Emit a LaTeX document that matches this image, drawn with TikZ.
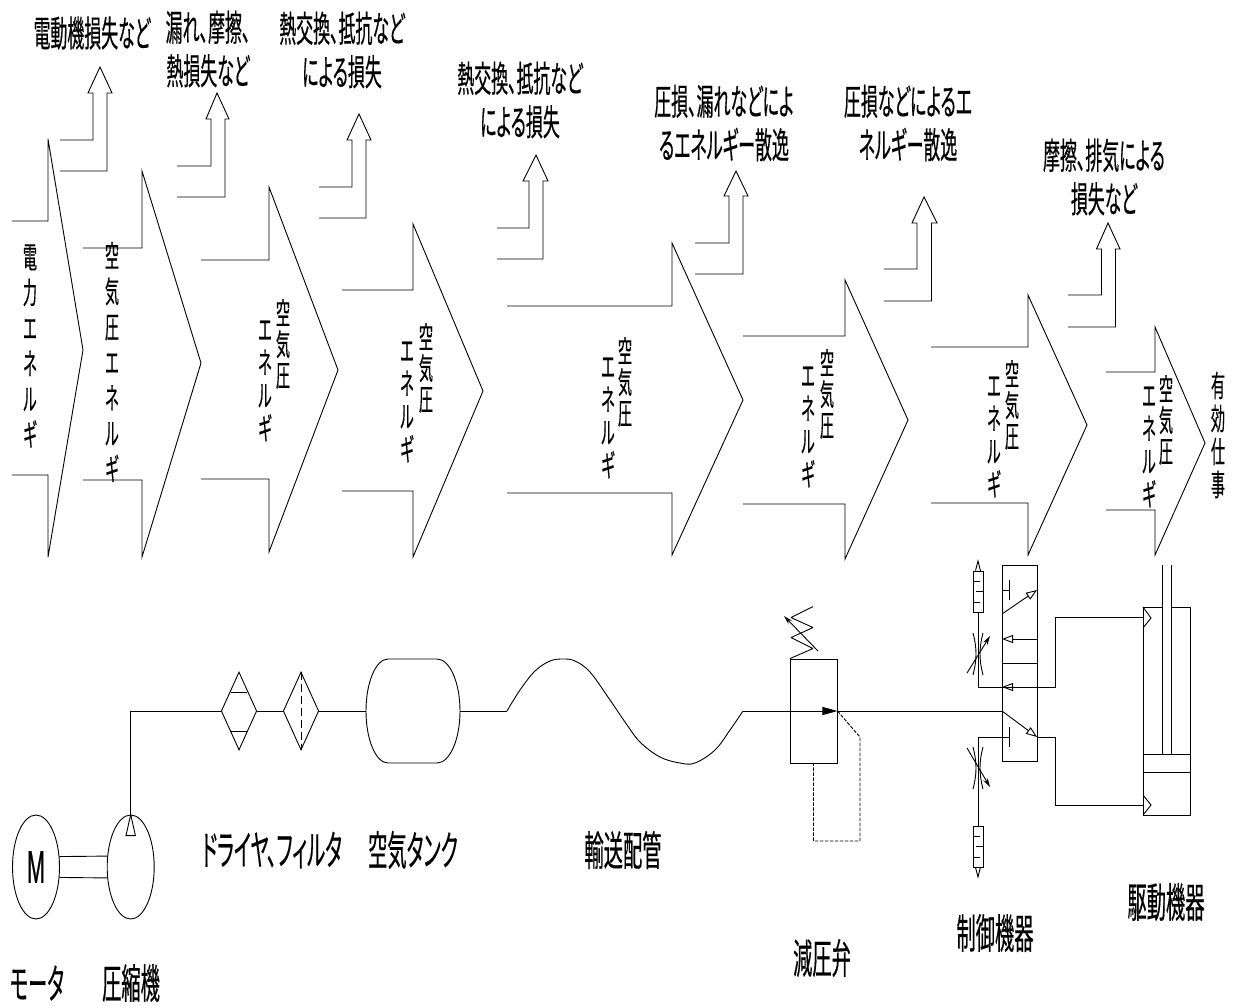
\documentclass[tikz,border=0pt]{standalone}
\usepackage{fontspec}
\usepackage{xcolor}
\usepackage{tikz}
\usetikzlibrary{positioning,arrows.meta,shapes.geometric,calc}
\newfontfamily\jpfont[FakeStretch=0.47,FakeBold=0.35,RawFeature=+palt]{Noto Sans CJK JP}
\newfontfamily\latfont[FakeStretch=0.47,FakeBold=0.5]{Liberation Sans}
\tikzset{
  flow/.style={line width=0.9pt, draw=black, line join=miter},
  elem/.style={draw=black, line width=0.9pt, inner sep=0pt},
  lossl/.style={align=center, inner sep=0pt, font=\jpfont\fontsize{36}{43.5}\selectfont},
  partl/.style={align=center, inner sep=0pt, font=\jpfont\fontsize{41}{40}\selectfont},
  airl/.style={align=center, inner sep=0pt, font=\jpfont\fontsize{30}{#1}\selectfont},
  airl/.default=31,
  openarr/.style={flow, -{Triangle[open, length=11pt, width=8pt]}},
  fillarr/.style={flow, -{Stealth[length=9pt, width=5pt]}},
  pilot/.style={flow, dashed, dash pattern=on 3.5pt off 1.5pt},
}

\begin{document}
\begin{tikzpicture}[x=1pt,y=-1pt]
    \useasboundingbox (0,0) rectangle (1234,1005);
    % big energy arrows
    \foreach \a/\b/\c/\t/\s/\m/\e/\r in {12/48/83/221/139/350/557/475, 83/142/201/248/171/363/557/480,
      201/269/338/260/187/370/552/479, 342/413/483/290/224/391/557/491, 507/672/743/306/243/400/555/493,
      743/845/908/336/280/420/559/504, 931/1028/1087/347/295/425/555/503, 1106/1155/1205/372/327/443/555/510}{
      \draw[flow] (\a,\t) -- (\b,\t) -- (\b,\s) -- (\c,\m) -- (\b,\e) -- (\b,\r) -- (\a,\r);
    }
    % loss arrows going up
    \foreach \a/\i/\o/\w/\v/\t/\h/\p/\q/\n in {60/93/107/88/112/140/93/100/67/171, 177/211/225/206/229/166/119/217/93/197,
      319/352/366/347/371/187/140/359/114/218, 497/529/543/523/548/228/181/536/155/259, 695/729/743/724/748/243/196/736/171/274,
      884/917/931.5/912/937/269/223/924/197/301, 1068/1101.5/1115.5/1096.5/1120/295/249/1108/223/327}{
      \draw[flow] (\a,\t) -- (\i,\t) -- (\i,\h) -- (\w,\h) -- (\p,\q) -- (\v,\h) -- (\o,\h) -- (\o,\n) -- (\a,\n);
    }
    % labels of the losses
    \node[lossl] (lossA) at (92,33) {電動機損失など};
    \node[lossl] (lossB) at (208,49) {漏れ、摩擦、\\熱損失など};
    \node[lossl] (lossC) at (342,50) {熱交換、抵抗など\\による損失};
    \node[lossl] (lossD) at (520,100) {熱交換、抵抗など\\による損失};
    \node[lossl] (lossE) at (724,123) {圧損、漏れなどによ\\るエネルギー散逸};
    \node[lossl] (lossF) at (908,123) {圧損などによるエ\\ネルギー散逸};
    \node[lossl] (lossG) at (1104,177) {摩擦、排気による\\損失など};
    % labels inside the arrows
    \node[airl=35.5] (engA) at (30,346) {電\\力\\エ\\ネ\\ル\\ギ};
    \node[airl=35.5] (engB) at (112,362) {空\\気\\圧\\エ\\ネ\\ル\\ギ};
    \foreach \n/\x/\y/\u/\v in {C/283/344/265/381, D/426/368/407/402, E/625/382/608/418,
      F/827/394/808/427, G/1012/405/994/437, H/1166/420/1149/447}{
      \node[airl] (air\n) at (\x,\y) {空\\気\\圧};
      \node[airl=33] (ene\n) at (\u,\v) {エ\\ネ\\ル\\ギ};
    }
    \node[airl=33] (work) at (1218,435) {有\\効\\仕\\事};

    % motor and compressor
    \node[elem, ellipse, minimum width=47pt, minimum height=104pt, font=\latfont\fontsize{46}{46}\selectfont] (motor) at (36,867) {M};
    \node[elem, ellipse, minimum width=47pt, minimum height=104pt] (comp) at (130.7,867) {};
    \draw[flow] (motor.24.5) -- (comp.155.5);
    \draw[flow] (motor.-24.5) -- (comp.-155.5);
    \draw[flow] (comp.north) -- ++(-4.7,21) -- ++(9.4,0) -- cycle;
    % dryer, filter, tank
    \node[elem, diamond, minimum width=35.5pt, minimum height=78pt] (dryer) at (239,711) {};
    \node[elem, diamond, minimum width=35.5pt, minimum height=78pt] (filter) at (301,711) {};
    \draw[flow] (230.7,692) -- (247.3,692);
    \draw[flow] (230.7,731) -- (247.3,731);
    \draw[flow, dash pattern=on 8pt off 4pt] (filter.north) -- (filter.south);
    \draw[flow] (388,659) -- (437,659) arc[start angle=-90, end angle=90, x radius=23, y radius=52]
      -- (388,763) arc[start angle=90, end angle=270, x radius=22, y radius=52] -- cycle;
    \coordinate (tankL) at (366,711);
    \coordinate (tankR) at (460,711);
    \draw[flow] (comp.north) |- (dryer.west);
    \draw[flow] (dryer.east) -- (filter.west);
    \draw[flow] (filter.east) -- (tankL);
    % transport pipe
    \coordinate (pipeA) at (507,711);
    \coordinate (pipeB) at (743,711);
    \draw[flow] (tankR) -- (pipeA);
    \draw[flow] plot[smooth, tension=0.6] coordinates {(507,711) (520,690) (535,671) (550,661) (563,659) (575,661) (590,672)
      (610,700) (625,722) (640,742) (660,757) (680,763) (695,763) (715,750) (730,730) (743,711)};

    % reducing valve
    \node[elem, minimum width=47pt, minimum height=104pt] (redv) at (813.5,711) {};
    \draw[flow, line join=bevel] (redv.north) ++(-23.5,0) -- ++(23,-10) -- ++(-22,-11) -- ++(22,-10) -- ++(-22,-10) -- ++(22,-11);
    \draw[fillarr] (818,651) -- (784,616);
    \draw[flow, -{Triangle[length=15pt, width=8pt]}] (pipeB) -- (redv.east);
    \draw[pilot] (redv.east) -- (860,737) -- (860,841) -- (813.5,841) -- (redv.south);

    % directional valve
    \node[elem, minimum width=35pt, minimum height=196pt] (dirv) at (1019.5,663) {};
    \draw[flow] (dirv.west) -- (dirv.east);
    \coordinate (vIn) at (1002,711);
    \draw[flow] (redv.east) -- (vIn);
    \draw[openarr] (1002,614) -- (1037,590);
    \draw[flow] (1002,590) -- (1009,590);
    \draw[flow] (1009,580) -- (1009,600);
    \draw[openarr] (1037,639) -- (1002,639);
    \draw[openarr] (vIn) -- (1037,737);
    \draw[flow] (1009,727) -- (1009,747);

    % cylinder
    \node[elem, minimum width=47pt, minimum height=208pt] (cyl) at (1166.5,711) {};
    \fill[white] (1162.5,605) rectangle (1170.5,609);
    \draw[flow] (1162,565) -- (1162,754);
    \draw[flow] (1171,565) -- (1171,754);
    \draw[flow] (1143,754) -- (1190,754);
    \draw[flow] (1143,772) -- (1190,772);
    \draw[flow] (1143,607) -- (1151,618) -- (1143,628);
    \draw[flow] (1143,795) -- (1151,805) -- (1143,815);

    % exhaust side with throttles and silencers
    \node[elem, minimum width=10pt, minimum height=41pt] (silA) at (978,591.5) {};
    \node[elem, minimum width=10pt, minimum height=41pt] (silB) at (978,846.5) {};
    \coordinate (tjA) at (978,687);
    \coordinate (tjB) at (978,737);
    \coordinate (tpA) at (1055,687);
    \coordinate (tpB) at (1055,737);
    \draw[flow] (silA.south) -- (tjA) -- (tpA) |- (1143,617);
    \draw[openarr] (tpA) -- (1002,687);
    \draw[flow] (silB.north) -- (tjB) -- (1009,737);
    \draw[flow] (1037,737) -- (tpB) |- (1143,805);
    \draw[flow] (silA.north) ++(-2.5,0) -- (978,561) -- ++(2.5,10);
    \draw[flow] (silB.south) ++(-2.5,0) -- (978,877) -- ++(2.5,-10);
    \foreach \s in {silA, silB}{
      \draw[flow] ($(\s.center)+(-5,-10.5)$) -- ++(7,0);
      \draw[flow] ($(\s.center)+(-2.5,0)$) -- ++(7.5,0);
      \draw[flow] ($(\s.center)+(-5,10.5)$) -- ++(7,0);
    }
    \foreach \t in {633, 747}{
      \draw[flow] (973,\t) .. controls (977,\t+15) and (977,\t+27) .. (973,\t+42);
      \draw[flow] (983,\t) .. controls (979,\t+15) and (979,\t+27) .. (983,\t+42);
    }
    \draw[fillarr] (967,673) -- (990,636);
    \draw[fillarr] (967,748) -- (990,787);

    % names of the parts
    \node[partl] (nMotor) at (37,983) {モータ};
    \node[partl] (nComp) at (131,983) {圧縮機};
    \node[partl] (nDryer) at (272,850) {ドライヤ、フィルタ};
    \node[partl] (nTank) at (413,850) {空気タンク};
    \node[partl] (nPipe) at (623,850) {輸送配管};
    \node[partl] (nRedv) at (822,958) {減圧弁};
    \node[partl] (nDirv) at (995,933) {制御機器};
    \node[partl] (nCyl) at (1166,902) {駆動機器};
\end{tikzpicture}
\end{document}
